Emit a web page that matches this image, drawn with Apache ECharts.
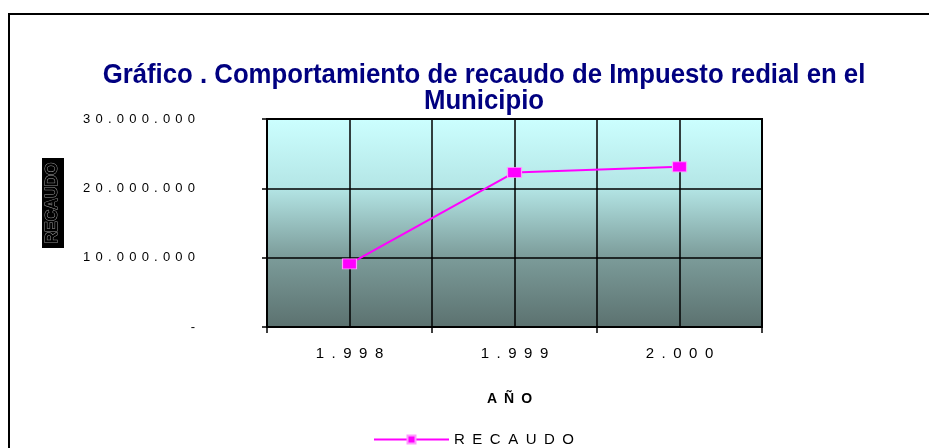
<!DOCTYPE html>
<html>
<head>
<meta charset="utf-8">
<script src="https://cdn.jsdelivr.net/npm/echarts@6/dist/echarts.min.js"></script>
<style>
  html, body { margin: 0; padding: 0; background: #fff; }
  #chart { width: 929px; height: 448px; }
</style>
</head>
<body>
<div id="chart"></div>
<script>
// data
var years = ['1.998', '1.999', '2.000'];
var recaudo = [9100000, 22300000, 23100000];
var yTicks = [0, 10000000, 20000000, 30000000];

var SP = '\u2002';          // wide letter spacing like the original
var SP_Y = '\u2009\u2009';  // a bit tighter for the value labels

function spaced(s, sp) {
  return s.split('').join(sp || SP);
}

function fmtNum(v) {
  if (v === 0) return '-';
  return String(v).replace(/\B(?=(\d{3})+(?!\d))/g, '.');
}

var chart = echarts.init(document.getElementById('chart'), null, { renderer: 'canvas' });

var option = {
  backgroundColor: '#fff',
  animation: false,
  textStyle: { fontFamily: 'Liberation Sans, Arial, sans-serif' },
  grid: {
    left: 267,
    right: 167,
    top: 119,
    bottom: 121,
    show: true,
    borderColor: '#000',
    borderWidth: 2,
    backgroundColor: new echarts.graphic.LinearGradient(0, 0, 0, 1, [
      { offset: 0, color: '#ccffff' },
      { offset: 0.33, color: '#b4e6e6' },
      { offset: 0.66, color: '#7c9c9a' },
      { offset: 1, color: '#5b716f' }
    ])
  },
  xAxis: [{
    type: 'category',
    data: years,
    boundaryGap: true,
    name: spaced('AÑO'),
    nameLocation: 'middle',
    nameGap: 65,
    nameTextStyle: { fontSize: 14, fontWeight: 'bold', color: '#000', padding: [0, 10, 0, 0] },
    axisLine: { lineStyle: { color: '#000', width: 2 } },
    axisTick: { show: true, length: 6, lineStyle: { color: '#000', width: 1.5 } },
    axisLabel: {
      margin: 19,
      fontSize: 15,
      color: '#000',
      formatter: function (v) { return spaced(v); }
    },
    splitLine: { show: false }
  }, {
    // finer vertical grid: band edges plus band centres
    type: 'category',
    data: ['', '', '', '', '', ''],
    boundaryGap: true,
    position: 'bottom',
    axisLine: { show: false },
    axisTick: { show: false },
    axisLabel: { show: false },
    splitLine: { show: true, lineStyle: { color: '#000', width: 1.5 } }
  }],
  yAxis: {
    type: 'value',
    min: yTicks[0],
    max: yTicks[yTicks.length - 1],
    interval: 10000000,
    axisLine: { show: true, lineStyle: { color: '#000', width: 2 } },
    axisTick: { show: true, length: 5, lineStyle: { color: '#000', width: 1.5 } },
    axisLabel: {
      margin: 72,
      fontSize: 13,
      color: '#000',
      formatter: function (v) { return spaced(fmtNum(v), SP_Y); }
    },
    splitLine: { show: true, lineStyle: { color: '#000', width: 1.5 } }
  },
  legend: {
    left: 368,
    top: 427,
    itemWidth: 75,
    itemHeight: 10,
    itemGap: 9,
    textStyle: { fontSize: 15, color: '#000' },
    formatter: function (n) { return spaced(n); },
    data: ['RECAUDO']
  },
  series: [{
    name: 'RECAUDO',
    type: 'line',
    xAxisIndex: 0,
    data: recaudo,
    symbol: 'rect',
    symbolSize: [14, 10],
    lineStyle: { color: '#ff00ff', width: 2 },
    itemStyle: { color: '#ff00ff', borderColor: '#ff99ff', borderWidth: 1 }
  }],
  graphic: [
    {
      type: 'rect',
      shape: { x: 9, y: 14, width: 940, height: 460 },
      style: { fill: 'none', stroke: '#000', lineWidth: 2 },
      silent: true
    },
    {
      type: 'text',
      x: 484,
      y: 62,
      scaleX: 1.03,
      scaleY: 1.1,
      style: {
        text: 'Gráfico . Comportamiento de recaudo de Impuesto redial en el\nMunicipio',
        fill: '#000080',
        font: 'bold 25px Liberation Sans, Arial, sans-serif',
        align: 'center',
        lineHeight: 24
      }
    },
    {
      type: 'rect',
      shape: { x: 42, y: 158, width: 22, height: 90 },
      style: { fill: '#000' }
    },
    {
      type: 'text',
      x: 53,
      y: 203,
      rotation: Math.PI / 2,
      style: {
        text: 'RECAUDO',
        fill: '#000',
        stroke: '#999',
        lineWidth: 1,
        font: 'bold 16px Liberation Sans, Arial, sans-serif',
        align: 'center',
        verticalAlign: 'middle'
      }
    }
  ]
};

chart.setOption(option);
</script>
</body>
</html>
